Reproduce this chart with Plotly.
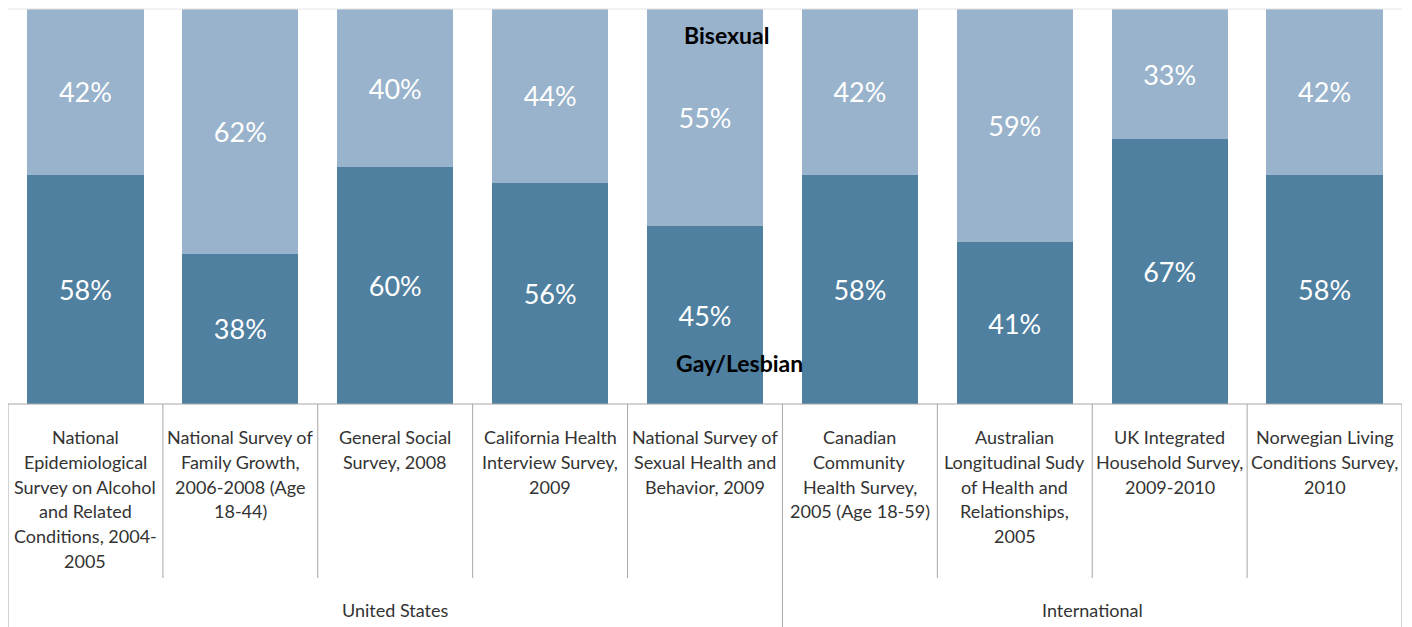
import plotly.graph_objects as go

categories = [
    "National<br>Epidemiological<br>Survey on Alcohol<br>and Related<br>Conditions, 2004-<br>2005",
    "National Survey of<br>Family Growth,<br>2006-2008 (Age<br>18-44)",
    "General Social<br>Survey, 2008",
    "California Health<br>Interview Survey,<br>2009",
    "National Survey of<br>Sexual Health and<br>Behavior, 2009",
    "Canadian<br>Community<br>Health Survey,<br>2005 (Age 18-59)",
    "Australian<br>Longitudinal Sudy<br>of Health and<br>Relationships,<br>2005",
    "UK Integrated<br>Household Survey,<br>2009-2010",
    "Norwegian Living<br>Conditions Survey,<br>2010",
]
gay_lesbian = [58, 38, 60, 56, 45, 58, 41, 67, 58]
bisexual = [42, 62, 40, 44, 55, 42, 59, 33, 42]
groups = ["United States", "International"]
group_sizes = [5, 4]

FONT = "Lato"
DARK = "#4F80A0"
LIGHT = "#98B3CB"
GRID = "#A6A6A6"
TXT = "#333333"

# page offset of 8px (body margin) is accounted for
W, H = 1404, 619
ML, MR, MT, MB = 0, 10, 1, 223
PLOT_TOP, PLOT_BOTTOM = 9, 404
PH = PLOT_BOTTOM - PLOT_TOP

def py(ypix):
    return (PLOT_BOTTOM - ypix) / PH

xs = list(range(len(categories)))

fig = go.Figure()
fig.add_trace(go.Bar(
    x=xs, y=gay_lesbian, name="Gay/Lesbian", marker=dict(color=DARK, line=dict(width=0)),
    texttemplate="%{y}%", textposition="inside", insidetextanchor="middle",
    textfont=dict(color="white", size=27, family=FONT), constraintext="none",
))
fig.add_trace(go.Bar(
    x=xs, y=bisexual, name="Bisexual", marker=dict(color=LIGHT, line=dict(width=0)),
    texttemplate="%{y}%", textposition="inside", insidetextanchor="middle",
    textfont=dict(color="white", size=27, family=FONT), constraintext="none",
))

shapes = []
shapes.append(dict(type="line", xref="paper", yref="paper", x0=0, x1=1, y0=0, y1=0,
                   line=dict(color=GRID, width=1)))
shapes.append(dict(type="line", xref="paper", yref="paper", x0=0, x1=1, y0=1, y1=1,
                   line=dict(color="#E3E3E3", width=1)))
bounds = [0]
for s in group_sizes:
    bounds.append(bounds[-1] + s)
for k in range(len(categories) + 1):
    full = k in bounds
    y1 = py(627) if full else py(578)
    shapes.append(dict(type="line", xref="x", yref="paper", x0=k - 0.5, x1=k - 0.5,
                       y0=0, y1=y1, line=dict(color=GRID, width=1)))

annotations = []
LINE_H = 24.8
for i, c in enumerate(categories):
    for j, line in enumerate(c.split("<br>")):
        annotations.append(dict(x=i, y=py(437 + LINE_H * j), xref="x", yref="paper", text=line,
                                showarrow=False, xanchor="center", yanchor="middle",
                                font=dict(family=FONT, size=18, color=TXT)))
for g, a, b in zip(groups, bounds[:-1], bounds[1:]):
    annotations.append(dict(x=(a + b - 1) / 2, y=py(610), xref="x", yref="paper", text=g,
                            showarrow=False, xanchor="center", yanchor="middle",
                            font=dict(family=FONT, size=18, color=TXT)))
annotations.append(dict(x=4.14, y=py(35), xref="x", yref="paper", text="<b>Bisexual</b>",
                        showarrow=False, xanchor="center", yanchor="middle",
                        font=dict(family=FONT, size=23, color="black")))
annotations.append(dict(x=4.22, y=py(363), xref="x", yref="paper", text="<b>Gay/Lesbian</b>",
                        showarrow=False, xanchor="center", yanchor="middle",
                        font=dict(family=FONT, size=23, color="black")))

fig.update_layout(
    width=W, height=H, barmode="stack", bargap=0.25,
    margin=dict(l=ML, r=MR, t=MT, b=MB),
    paper_bgcolor="white", plot_bgcolor="white", showlegend=False,
    xaxis=dict(range=[-0.5, len(categories) - 0.5], showticklabels=False, showgrid=False,
               zeroline=False, showline=False, ticks=""),
    yaxis=dict(range=[0, 100], showticklabels=False, showgrid=False, zeroline=False,
               showline=False, ticks=""),
    shapes=shapes, annotations=annotations,
)
fig.write_html("out.html")
